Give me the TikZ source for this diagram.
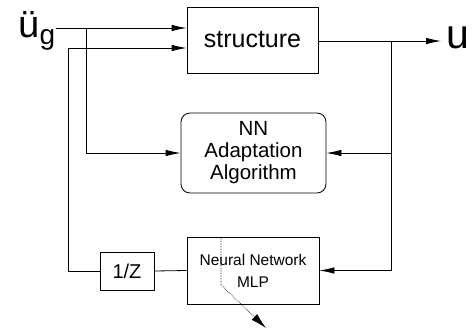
\documentclass[tikz,border=0pt]{standalone}
\usepackage{fontspec}
\setmainfont{Liberation Sans}
\usetikzlibrary{arrows.meta}

\begin{document}
\begin{tikzpicture}[x=1pt,y=-1pt,line width=0.8pt,
  blk/.style={draw,inner sep=0pt,align=center},
  arr/.style={-{Latex[length=15pt,width=6.5pt]}}]
\useasboundingbox (0,0) rectangle (472,330);
%-------->blocks<--------------
\node[blk,minimum width=131pt,minimum height=66pt,font=\fontsize{25}{28}\selectfont] (struct) at (252.5,40) {structure};
\node[blk,rounded corners=9pt,minimum width=145pt,minimum height=80pt,font=\fontsize{20.5}{22}\selectfont] (nn) at (253.5,153) {NN\\Adaptation\\Algorithm};
\node[blk,minimum width=132pt,minimum height=67pt,font=\fontsize{15.5}{22}\selectfont] (mlp) at (253,270.5) {Neural Network\\MLP};
\node[blk,minimum width=54pt,minimum height=38pt,font=\fontsize{20}{22}\selectfont] (delay) at (127,271) {1/Z};
%-------->signals<--------------
\node[anchor=base west,inner sep=0pt,font=\fontsize{38}{40}\selectfont] (acc) at (18,37) {ü\raisebox{-7pt}{\fontsize{28}{30}\selectfont g}};
\node[anchor=base west,inner sep=0pt,font=\fontsize{41}{44}\selectfont] (disp) at (446,48) {u};
%-------->junctions<--------------
\coordinate (j1) at (86,28);
\coordinate (j2) at (68,48);
\coordinate (j3) at (391,41);
\coordinate (out) at (441,41);
%------------->input side<------------------
\draw[arr] (acc.east |- j1) -- (struct.west |- j1);
\draw[arr] (j1) |- (nn.west);
\draw[arr] (delay.west) -| (j2) -- (struct.west |- j2);
\draw (delay.east) -- (mlp.west);
%------------->output side<------------------
\draw[arr] (struct.east |- j3) -- (out);
\draw[arr] (j3) |- (mlp.east);
\draw[arr] (j3 |- nn.east) -- (nn.east);
%------------->weight arrow<------------------
\coordinate (wtop) at (221,238);
\coordinate (wbend) at (221,285);
\coordinate (wtip) at (266,328);
\draw[densely dotted,line width=0.6pt,-{Latex[length=16pt,width=8pt]}] (wtop) -- (wbend) -- (wtip);
\end{tikzpicture}
\end{document}
